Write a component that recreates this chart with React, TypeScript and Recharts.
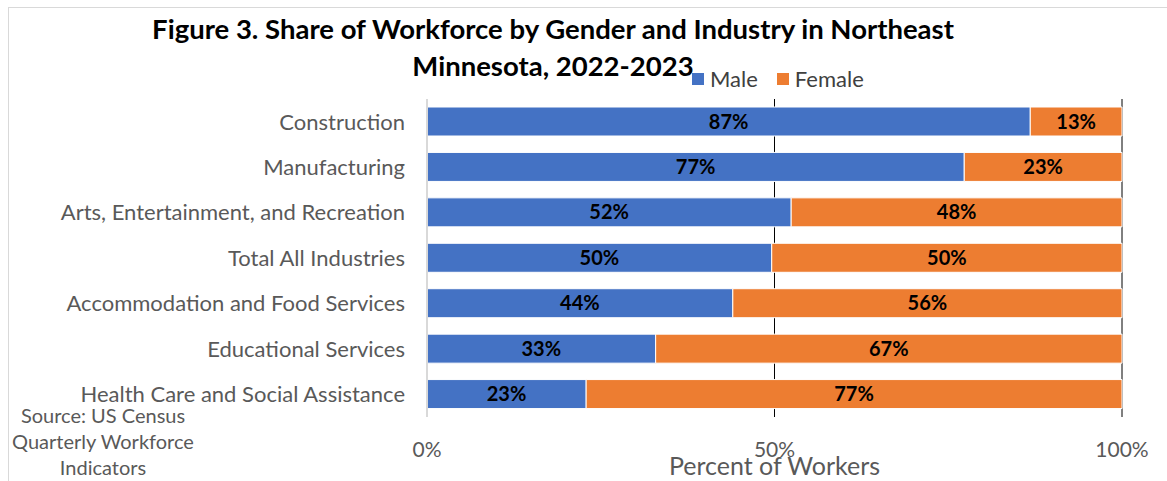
import { BarChart, Bar, XAxis, YAxis, CartesianGrid, Legend, LabelList } from 'recharts';

const industries = [
  'Construction',
  'Manufacturing',
  'Arts, Entertainment, and Recreation',
  'Total All Industries',
  'Accommodation and Food Services',
  'Educational Services',
  'Health Care and Social Assistance',
];
const maleShare = [86.8, 77.3, 52.4, 49.6, 44.0, 32.9, 22.9];
const femaleShare = [13.2, 22.7, 47.6, 50.4, 56.0, 67.1, 77.1];
const xTicks = [0, 50, 100];
const seriesOrder = ['Male', 'Female'];

const data = industries.map((name, i) => ({ name, male: maleShare[i], female: femaleShare[i] }));

const FONT = 'Lato, "Open Sans", sans-serif';
const pct = (v: number) => `${Math.round(v)}%`;

const labelStyle = { fill: '#000', fontSize: 20, fontWeight: 'bold' as const, fontFamily: FONT };

const LegendContent = ({ payload }: any) => {
  const items = [...(payload || [])].sort(
    (a: any, b: any) => seriesOrder.indexOf(a.value) - seriesOrder.indexOf(b.value)
  );
  return (
    <div style={{ display: 'flex', alignItems: 'center', fontSize: 22, fontFamily: FONT, color: '#404040' }}>
      {items.map((it: any) => (
        <div key={it.value} style={{ display: 'flex', alignItems: 'center', marginRight: 19 }}>
          <span style={{ width: 12, height: 12, background: it.color, display: 'inline-block', marginRight: 6 }} />
          <span>{it.value}</span>
        </div>
      ))}
    </div>
  );
};

export default function App() {
  return (
    <div style={{ position: 'absolute', left: 0, top: 0, width: 1167, height: 481, background: '#fff', fontFamily: FONT, overflow: 'hidden' }}>
      <div style={{ position: 'absolute', left: 8, top: 7, width: 1170, height: 480, border: '1px solid #d9d9d9' }} />
      <div style={{ position: 'absolute', left: 0, width: 1106, top: 10, textAlign: 'center', fontWeight: 'bold', fontSize: 27.5, lineHeight: '37px', color: '#000' }}>
        Figure 3. Share of Workforce by Gender and Industry in Northeast
        <br />
        Minnesota, 2022-2023
      </div>
      <BarChart
        width={1167}
        height={481}
        data={data}
        layout="vertical"
        margin={{ top: 99, right: 45, bottom: 34, left: 0 }}
        style={{ position: 'absolute', left: 0, top: 0 }}
      >
        <CartesianGrid vertical horizontal={false} stroke="#000" strokeWidth={1} />
        <XAxis
          type="number"
          domain={[0, 100]}
          ticks={xTicks}
          tickFormatter={pct}
          axisLine={false}
          tickLine={false}
          tickMargin={19}
          tick={{ fill: '#595959', fontSize: 21, fontFamily: FONT }}
          label={{ value: 'Percent of Workers', position: 'insideBottom', offset: -28, fill: '#595959', fontSize: 25, fontFamily: FONT }}
        />
        <YAxis
          type="category"
          dataKey="name"
          width={427}
          axisLine={{ stroke: '#d9d9d9', strokeWidth: 2 }}
          tickLine={false}
          tickMargin={16}
          tick={{ fill: '#595959', fontSize: 22, fontFamily: FONT }}
        />
        <Legend
          layout="horizontal"
          verticalAlign="middle"
          align="center"
          content={<LegendContent />}
          wrapperStyle={{ left: 692, top: 65, width: 250 }}
        />
        <Bar dataKey="male" name="Male" stackId="a" fill="#4472c4" stroke="#fff" strokeWidth={1} barSize={29} isAnimationActive={false}>
          <LabelList dataKey="male" position="center" formatter={(v: any) => pct(Number(v))} style={labelStyle} />
        </Bar>
        <Bar dataKey="female" name="Female" stackId="a" fill="#ed7d31" stroke="#fff" strokeWidth={1} barSize={29} isAnimationActive={false}>
          <LabelList dataKey="female" position="center" formatter={(v: any) => pct(Number(v))} style={labelStyle} />
        </Bar>
      </BarChart>
      <div style={{ position: 'absolute', left: 0, width: 206, top: 402, textAlign: 'center', fontSize: 20, lineHeight: '26px', color: '#595959' }}>
        Source: US Census
        <br />
        Quarterly Workforce
        <br />
        Indicators
      </div>
    </div>
  );
}
